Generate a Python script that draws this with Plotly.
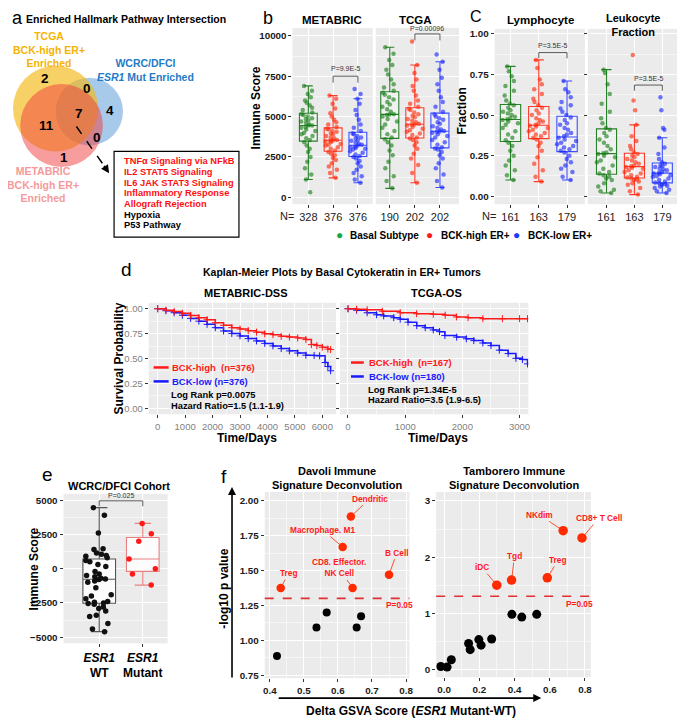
import plotly.graph_objects as go

# the page body has an 8px margin, so page pixel p sits at figure pixel p - OFF
OFF = 8
W, H = 685 - OFF, 722 - OFF
FONT = 'Liberation Sans, Arial, sans-serif'

# ---------------- data ----------------
# a: Venn of enriched hallmark pathways
venn_regions = ['TCGA only', 'TCGA & WCRC', 'WCRC only', 'all three',
                'TCGA & METABRIC', 'WCRC & METABRIC', 'METABRIC only']
venn_counts = [2, 0, 4, 7, 11, 0, 1]
pathways = ['TNFα Signaling via NFkB', 'IL2 STAT5 Signaling', 'IL6 JAK STAT3 Signaling',
            'Inflammatory Response', 'Allograft Rejection', 'Hypoxia', 'P53 Pathway']
pathway_highlight = [True, True, True, True, True, False, False]

# b / c: subtype groups
groups = ['Basal Subtype', 'BCK-high ER+', 'BCK-low ER+']
metabric_n = [328, 376, 376]
tcga_n = [190, 202, 202]
lymph_n = [161, 163, 179]
leuk_n = [161, 163, 179]

metabric_basal = [300, 1100, 1400, 1800, 2200, 2500, 2800, 3000, 3200, 3400, 3550, 3650, 3800, 3900,
                  4000, 4100, 4200, 4300, 4350, 4440, 4450, 4500, 4600, 4700, 4750, 4850, 4900, 5000,
                  5100, 5150, 5250, 5400, 5550, 5700, 5850, 6000, 6200, 6400, 6600, 6900]
metabric_high = [1200, 1500, 1700, 1900, 2100, 2300, 2450, 2600, 2700, 2800, 2900, 3000, 3100, 3200,
                 3250, 3300, 3400, 3450, 3500, 3520, 3550, 3650, 3700, 3800, 3900, 3950, 4050, 4100,
                 4200, 4250, 4350, 4500, 4650, 4800, 5000, 5200, 5500, 5800, 6100, 6300]
metabric_low = [900, 1100, 1300, 1500, 1700, 1900, 2100, 2250, 2400, 2500, 2550, 2650, 2750, 2850,
                2950, 3000, 3050, 3100, 3150, 3200, 3250, 3300, 3400, 3500, 3550, 3650, 3700, 3800,
                3900, 3950, 4100, 4300, 4500, 4800, 5100, 5400, 5800, 6100, 6400, 6700]
tcga_basal = [550, 1000, 1300, 1800, 2200, 2600, 2900, 3200, 3400, 3600, 3700, 3900, 4100, 4300,
              4500, 4700, 4850, 5000, 5100, 5120, 5150, 5300, 5450, 5600, 5750, 5900, 6050, 6200,
              6350, 6480, 6600, 6800, 7000, 7300, 7600, 7900, 8200, 8500, 8900, 9300]
tcga_high = [900, 1500, 2000, 2400, 2700, 3000, 3200, 3400, 3550, 3640, 3700, 3850, 3950, 4050,
             4150, 4250, 4350, 4450, 4500, 4500, 4550, 4650, 4750, 4850, 4950, 5050, 5150, 5250,
             5400, 5490, 5600, 5800, 6000, 6300, 6600, 6900, 7300, 7700, 8200, 9650]
tcga_low = [600, 1000, 1400, 1800, 2100, 2400, 2600, 2800, 2950, 3020, 3100, 3250, 3400, 3550,
            3700, 3800, 3900, 4000, 4050, 4070, 4100, 4200, 4300, 4400, 4550, 4650, 4800, 4900,
            5000, 5120, 5300, 5600, 5900, 6200, 6600, 7000, 7400, 7900, 8400, 8850]

lymph_basal = [0.10, 0.13, 0.16, 0.19, 0.22, 0.25, 0.28, 0.31, 0.33, 0.345, 0.36, 0.38, 0.40, 0.42,
               0.44, 0.45, 0.46, 0.47, 0.475, 0.48, 0.49, 0.50, 0.51, 0.52, 0.53, 0.545, 0.56, 0.57,
               0.59, 0.62, 0.65, 0.68, 0.71, 0.74, 0.77, 0.80]
lymph_high = [0.09, 0.12, 0.16, 0.20, 0.24, 0.28, 0.31, 0.33, 0.35, 0.36, 0.37, 0.38, 0.39, 0.40,
              0.41, 0.42, 0.43, 0.435, 0.44, 0.45, 0.46, 0.47, 0.48, 0.50, 0.51, 0.53, 0.545, 0.56,
              0.58, 0.60, 0.63, 0.66, 0.69, 0.72, 0.79, 0.84]
lymph_low = [0.10, 0.12, 0.15, 0.17, 0.19, 0.21, 0.23, 0.25, 0.27, 0.28, 0.29, 0.30, 0.31, 0.32,
             0.33, 0.34, 0.35, 0.36, 0.37, 0.38, 0.39, 0.41, 0.42, 0.44, 0.45, 0.47, 0.485, 0.50,
             0.52, 0.54, 0.56, 0.58, 0.61, 0.64, 0.66, 0.71]
leuk_basal = [0.02, 0.03, 0.04, 0.06, 0.08, 0.10, 0.11, 0.12, 0.13, 0.14, 0.15, 0.17, 0.19, 0.21,
              0.22, 0.24, 0.25, 0.26, 0.265, 0.27, 0.29, 0.31, 0.33, 0.35, 0.37, 0.39, 0.41, 0.42,
              0.45, 0.48, 0.52, 0.57, 0.63, 0.69, 0.76, 0.78]
leuk_high = [0.01, 0.03, 0.05, 0.07, 0.08, 0.09, 0.10, 0.105, 0.11, 0.115, 0.12, 0.13, 0.14, 0.15,
             0.16, 0.17, 0.175, 0.18, 0.185, 0.19, 0.20, 0.21, 0.22, 0.23, 0.24, 0.25, 0.26, 0.27,
             0.29, 0.31, 0.34, 0.37, 0.44, 0.53, 0.59, 0.87]
leuk_low = [0.02, 0.03, 0.04, 0.05, 0.06, 0.065, 0.07, 0.075, 0.08, 0.085, 0.09, 0.10, 0.11, 0.12,
            0.125, 0.13, 0.135, 0.14, 0.145, 0.15, 0.16, 0.165, 0.17, 0.18, 0.185, 0.19, 0.20, 0.21,
            0.23, 0.26, 0.30, 0.36, 0.41, 0.42, 0.53, 0.61]

p_metabric, p_tcga, p_lymph, p_leuk, p_esr1 = 'P=9.9E-5', 'P=0.00096', 'P=3.5E-5', 'P=3.5E-5', 'P=0.025'

# d: Kaplan-Meier
km_metabric_high_t = [0, 300, 600, 900, 1200, 1500, 1800, 2100, 2400, 2700, 3000, 3300, 3600, 3900,
                      4200, 4500, 4800, 5100, 5400, 5600, 5800, 6000, 6200, 6300]
km_metabric_high_s = [1.0, 0.985, 0.972, 0.955, 0.933, 0.91, 0.89, 0.86, 0.833, 0.81, 0.797, 0.78,
                      0.765, 0.748, 0.74, 0.723, 0.715, 0.707, 0.69, 0.64, 0.63, 0.613, 0.595, 0.59]
km_metabric_low_t = [0, 300, 600, 900, 1200, 1500, 1800, 2100, 2400, 2700, 3000, 3300, 3600, 3900,
                     4200, 4500, 4800, 5100, 5400, 5700, 5900, 6100, 6200, 6300]
km_metabric_low_s = [1.0, 0.98, 0.96, 0.935, 0.903, 0.875, 0.843, 0.81, 0.777, 0.752, 0.727, 0.70,
                     0.677, 0.652, 0.627, 0.60, 0.577, 0.555, 0.533, 0.53, 0.527, 0.46, 0.42, 0.377]
km_tcga_high_t = [0, 150, 335, 600, 913, 1200, 1491, 1700, 1896, 2100, 2358, 2700, 3000, 3139]
km_tcga_high_s = [1.0, 0.995, 0.99, 0.975, 0.96, 0.95, 0.944, 0.935, 0.918, 0.91, 0.90, 0.90, 0.90, 0.90]
km_tcga_low_t = [0, 150, 335, 500, 624, 800, 913, 1050, 1202, 1350, 1491, 1600, 1694, 1900, 2069,
                 2200, 2358, 2500, 2647, 2800, 2936, 3050, 3139]
km_tcga_low_s = [1.0, 0.985, 0.96, 0.94, 0.928, 0.91, 0.895, 0.865, 0.83, 0.81, 0.787, 0.77, 0.731,
                 0.715, 0.698, 0.68, 0.656, 0.63, 0.584, 0.55, 0.502, 0.49, 0.446]
km_metabric_n = [376, 376]
km_tcga_n = [167, 180]
km_metabric_stats = ['Log Rank p=0.0075', 'Hazard Ratio=1.5 (1.1-1.9)']
km_tcga_stats = ['Log Rank p=1.34E-5', 'Hazard Ratio=3.5 (1.9-6.5)']

# e: WCRC/DFCI immune score
esr1_groups = ['WT', 'Mutant']
esr1_wt = [4450, 3900, 2600, 1450, 1400, 1150, 1050, 950, 900, 800, 600, 500, 300, 150, -200, -400,
           -500, -600, -700, -750, -800, -900, -1000, -1400, -1900, -2000, -2200, -2400, -2450,
           -2500, -2550, -2600, -2800, -2900, -3100, -3400, -3500, -4000, -4400, -4600]
esr1_mut = [3300, 2550, 2000, 700, 0, -400, -1200]

# f: deconvolution
davoli_sig_names = ['Dendritic', 'Macrophage. M1', 'B Cell', 'Treg', 'CD8. Effector.<br>NK Cell']
davoli_sig_x = [0.638, 0.614, 0.750, 0.432, 0.643]
davoli_sig_y = [1.888, 1.669, 1.471, 1.376, 1.376]
davoli_ns_x = [0.421, 0.537, 0.567, 0.655, 0.668]
davoli_ns_y = [0.888, 1.093, 1.200, 1.093, 1.173]
tamb_sig_names = ['NKdim', 'CD8+ T Cell', 'Tgd', 'Treg', 'iDC']
tamb_sig_x = [0.676, 0.783, 0.383, 0.586, 0.299]
tamb_sig_y = [2.47, 2.34, 1.59, 1.63, 1.50]
tamb_ns_x = [0.385, 0.441, 0.526, -0.019, 0.017, 0.041, 0.139, 0.148, 0.197, 0.210, 0.270]
tamb_ns_y = [0.98, 0.93, 0.98, 0.05, 0.04, 0.17, 0.46, 0.35, 0.53, 0.43, 0.54]
p_cut = 1.301  # -log10(0.05)

# ---------------- styles ----------------
pt_colors = ['#0E7A0E', '#FF2200', '#1020FF']
box_colors = ['#2A7F2A', '#FF3B2B', '#3B4EFF']
leg_colors = ['#14A84A', '#FF1A1A', '#1A3BFF']
RED, BLUE = '#FF1A1A', '#1A1AFF'
BG = '#EBEBEB'

fig = go.Figure()
shapes, ann = [], []


def X(px):
    return (px - OFF) / W


def Y(py):
    return 1 - (py - OFF) / H


def dx(a, b):
    return [max(X(a), 0), min(X(b), 1)]


def dy(top, bottom):
    return [Y(bottom), Y(top)]


def text(x, y, s, size, color='black', bold=True, xanchor='center', angle=0, yanchor='middle'):
    ann.append(dict(x=X(x), y=Y(y), xref='paper', yref='paper', text=s, showarrow=False,
                    xanchor=xanchor, yanchor=yanchor, textangle=angle,
                    font=dict(family=FONT, size=size, color=color,
                              weight='bold' if bold else 'normal')))


def axis(**kw):
    base = dict(showgrid=True, gridcolor='white', gridwidth=1, zeroline=False, showline=False,
                ticks='outside', ticklen=3, tickcolor='#333', tickwidth=1,
                tickfont=dict(family=FONT, size=9.8, color='#1a1a1a', weight='bold'))
    base.update(kw)
    return base


def add_boxes(series, xa, ya, size, width):
    for name, vals, pc, bc in zip(groups, series, pt_colors, box_colors):
        fig.add_trace(go.Box(x=[name] * len(vals), y=vals, xaxis=xa, yaxis=ya, boxpoints='all',
                             jitter=1, pointpos=0, width=width,
                             marker=dict(color=pc, size=size, opacity=0.6),
                             line=dict(color=bc, width=1.1),
                             fillcolor='rgba(255,255,255,0.25)', showlegend=False))


def bracket(xa, ya, x0, x1, y, drop, label, label_y):
    for a, b, c, d in [(x0, y - drop, x0, y), (x0, y, x1, y), (x1, y, x1, y - drop)]:
        shapes.append(dict(type='line', xref=xa, yref=ya, x0=a, y0=b, x1=c, y1=d,
                           line=dict(color='#333', width=0.8)))
    ann.append(dict(x=(x0 + x1) / 2, y=label_y, xref=xa, yref=ya, text=label, showarrow=False,
                    xanchor='center', yanchor='middle',
                    font=dict(family=FONT, size=7, color='#333')))


# ---------------- a: Venn ----------------
circles = [(88, 111, 34, 'rgba(80,150,215,0.5)'),
           (54, 108, 43, 'rgba(245,185,20,0.65)'),
           (60, 125, 41.7, 'rgba(240,60,60,0.5)')]
for cx, cy, r, col in circles:
    shapes.append(dict(type='circle', xref='paper', yref='paper', x0=X(cx - r), x1=X(cx + r),
                       y0=Y(cy + r), y1=Y(cy - r), fillcolor=col, line=dict(width=0)))
venn_pos = [(43, 78), (86, 88), (109, 110), (78, 113), (45, 125), (96, 137), (62, 157)]
for (vx, vy), c in zip(venn_pos, venn_counts):
    text(vx, vy, str(c), 13.5)
text(8, 5, 'a', 18, bold=False, xanchor='left', yanchor='top')
text(125, 18, 'Enriched Hallmark Pathway Intersection', 10.5)
text(47, 49, 'TCGA<br>BCK-high ER+<br>Enriched', 10.5, color='#F5B300')
text(145, 69, 'WCRC/DFCI<br><i>ESR1</i> Mut Enriched', 10.5, color='#1F7BC8')
text(41, 184, 'METABRIC<br>BCK-high ER+<br>Enriched', 10.5, color='#F59A9A')
shapes.append(dict(type='line', xref='paper', yref='paper', x0=X(75), y0=Y(126),
                   x1=X(104), y1=Y(167), line=dict(color='black', width=1.5, dash='dash')))
ann.append(dict(x=X(108), y=Y(173), xref='paper', yref='paper', text='', showarrow=True,
                ax=-6, ay=-9, arrowhead=2, arrowsize=1.1, arrowwidth=1.5, arrowcolor='black'))
shapes.append(dict(type='rect', xref='paper', yref='paper', x0=X(113), x1=X(239),
                   y0=Y(237), y1=Y(151), line=dict(color='black', width=1.2),
                   fillcolor='white'))
for i, (pw, hl) in enumerate(zip(pathways, pathway_highlight)):
    text(121, 161 + i * 10.7, pw, 9.3, color='#FF1010' if hl else 'black', xanchor='left')

# ---------------- b ----------------
add_boxes([metabric_basal, metabric_high, metabric_low], 'x', 'y', 4.5, 0.72)
add_boxes([tcga_basal, tcga_high, tcga_low], 'x2', 'y2', 4.5, 0.72)
bracket('x', 'y', 1, 2, 7500, 400, p_metabric, 7950)
bracket('x2', 'y2', 1, 2, 10120, 400, p_tcga, 10450)
text(268, 5, 'b', 18, bold=False, yanchor='top')
text(333, 19, 'METABRIC', 11.5)
text(417, 19, 'TCGA', 11.5)
text(256, 107, 'Immune Score', 12, angle=-90)
text(287, 216, 'N=', 11, color='#222', bold=False)

# ---------------- c ----------------
add_boxes([lymph_basal, lymph_high, lymph_low], 'x3', 'y3', 4.5, 0.72)
add_boxes([leuk_basal, leuk_high, leuk_low], 'x4', 'y4', 4.5, 0.72)
bracket('x3', 'y3', 1, 2, 0.885, 0.035, p_lymph, 0.93)
bracket('x4', 'y4', 1, 2, 0.685, 0.035, p_leuk, 0.725)
text(478, 5, 'C', 16, bold=False, yanchor='top')
text(543, 19, 'Lymphocyte', 11.5)
text(637, 9, 'Leukocyte<br>Fraction', 11, yanchor='top')
text(464, 110, 'Fraction', 12, angle=-90)
text(491, 216, 'N=', 11, color='#222', bold=False)

# legend row
leg_x = [(340, 349), (431, 441), (519, 529)]
for (dxp, tx), g, c in zip(leg_x, groups, leg_colors):
    text(dxp, 235, '●', 12, color=c, bold=False)
    text(tx, 235, g, 10, xanchor='left')

# ---------------- d ----------------
for t, s, col, xa, ya in [(km_metabric_low_t, km_metabric_low_s, BLUE, 'x5', 'y5'),
                          (km_metabric_high_t, km_metabric_high_s, RED, 'x5', 'y5'),
                          (km_tcga_low_t, km_tcga_low_s, BLUE, 'x6', 'y6'),
                          (km_tcga_high_t, km_tcga_high_s, RED, 'x6', 'y6')]:
    fig.add_trace(go.Scatter(x=t, y=s, xaxis=xa, yaxis=ya, mode='lines+markers',
                             line=dict(color=col, width=1.5, shape='hv'),
                             marker=dict(symbol='cross-thin', size=5, color=col,
                                         line=dict(color=col, width=1)),
                             showlegend=False))


def km_legend(xa, lx0, lx1, tx, ys, ns, stats):
    ya = xa.replace('x', 'y')
    for (label, col), yy, n in zip([('BCK-high ', RED), ('BCK-low', BLUE)], ys[:2], ns):
        shapes.append(dict(type='line', xref=xa + ' domain', yref=ya + ' domain',
                           x0=lx0, x1=lx1, y0=yy, y1=yy, line=dict(color=col, width=2.5)))
        ann.append(dict(x=tx, y=yy, xref=xa + ' domain', yref=ya + ' domain',
                        text=f'{label} (n={n})', showarrow=False, xanchor='left', yanchor='middle',
                        font=dict(family=FONT, size=9.5, color=col, weight='bold')))
    for st, yy in zip(stats, ys[2:]):
        ann.append(dict(x=tx - 0.005, y=yy, xref=xa + ' domain', yref=ya + ' domain',
                        text=st, showarrow=False, xanchor='left', yanchor='middle',
                        font=dict(family=FONT, size=9.3, color='black', weight='bold')))


km_legend('x5', 0.026, 0.106, 0.112, [0.42, 0.295, 0.17, 0.071], km_metabric_n, km_metabric_stats)
km_legend('x6', 0.058, 0.126, 0.142, [0.464, 0.339, 0.214, 0.125], km_tcga_n, km_tcga_stats)
text(126, 270, 'd', 19, bold=False)
text(343, 272, 'Kaplan-Meier Plots by Basal Cytokeratin in ER+ Tumors', 10.5)
text(246, 293, 'METABRIC-DSS', 11)
text(438, 293, 'TCGA-OS', 11)
text(117, 359, 'Survival Probability', 12, angle=-90)
text(247, 439, 'Time/Days', 12)
text(440, 439, 'Time/Days', 12)

# ---------------- e ----------------
for name, vals, pc, bc in [(esr1_groups[0], esr1_wt, '#111111', '#555555'),
                           (esr1_groups[1], esr1_mut, '#FF1A1A', '#E88080')]:
    fig.add_trace(go.Box(x=[name] * len(vals), y=vals, xaxis='x7', yaxis='y7', boxpoints='all',
                         jitter=1, pointpos=0, width=0.75, quartilemethod='inclusive',
                         marker=dict(color=pc, size=5.5), line=dict(color=bc, width=1.1),
                         fillcolor='rgba(255,255,255,0.85)', showlegend=False))
bracket('x7', 'y7', 0, 1, 4950, 400, p_esr1, 5330)
text(46, 475, 'e', 19, bold=False)
text(118, 487, 'WCRC/DFCI Cohort', 11)
text(32, 570, 'Immune Score', 12, angle=-90)

# ---------------- f ----------------
fig.add_trace(go.Scatter(x=davoli_ns_x, y=davoli_ns_y, xaxis='x8', yaxis='y8', mode='markers',
                         marker=dict(color='black', size=8), showlegend=False))
fig.add_trace(go.Scatter(x=davoli_sig_x, y=davoli_sig_y, xaxis='x8', yaxis='y8', mode='markers',
                         marker=dict(color='#FF2A00', size=8.5), showlegend=False))
fig.add_trace(go.Scatter(x=tamb_ns_x, y=tamb_ns_y, xaxis='x9', yaxis='y9', mode='markers',
                         marker=dict(color='black', size=9), showlegend=False))
fig.add_trace(go.Scatter(x=tamb_sig_x, y=tamb_sig_y, xaxis='x9', yaxis='y9', mode='markers',
                         marker=dict(color='#FF2A00', size=9.5), showlegend=False))

davoli_offsets = [(19, -18), (-20, -17), (8, -22), (8, -15), (-14, -20)]
tamb_offsets = [(-24, -16), (17, -20), (3, -24), (11, -18), (-15, -18)]
for names, xs, ys, offs, xa, ya in [(davoli_sig_names, davoli_sig_x, davoli_sig_y, davoli_offsets, 'x8', 'y8'),
                                    (tamb_sig_names, tamb_sig_x, tamb_sig_y, tamb_offsets, 'x9', 'y9')]:
    for nm, xv, yv, (ox, oy) in zip(names, xs, ys, offs):
        ann.append(dict(x=xv, y=yv, xref=xa, yref=ya, text=nm, showarrow=True, ax=ox, ay=oy,
                        arrowhead=0, arrowwidth=0.8, arrowcolor='#FF2A00', standoff=4,
                        font=dict(family=FONT, size=8.3, color='#FF1A1A', weight='bold')))
    shapes.append(dict(type='line', xref=xa + ' domain', yref=ya, x0=0, x1=1, y0=p_cut, y1=p_cut,
                       line=dict(color='#E03030', width=1.6, dash='dash')))
ann.append(dict(x=0.782, y=1.252, xref='x8', yref='y8', text='P=0.05', showarrow=False,
                font=dict(family=FONT, size=8.3, color='#FF1A1A', weight='bold')))
ann.append(dict(x=0.766, y=1.16, xref='x9', yref='y9', text='P=0.05', showarrow=False,
                font=dict(family=FONT, size=8.3, color='#FF1A1A', weight='bold')))

text(224, 477, 'f', 19, bold=False)
text(338, 479, 'Davoli Immune<br>Signature Deconvolution', 11)
text(517, 479, 'Tamborero Immune<br>Signature Deconvolution', 11)
text(223, 590, '-log10 p value', 12, angle=-90)
text(413, 713, 'Delta GSVA Score (<i>ESR1</i> Mutant-WT)', 12)
ann.append(dict(x=X(232), y=Y(488), xref='paper', yref='paper', text='', showarrow=True,
                ax=0, ay=192, arrowhead=2, arrowsize=1, arrowwidth=1.6, arrowcolor='black'))
ann.append(dict(x=X(544), y=Y(700), xref='paper', yref='paper', text='', showarrow=True,
                ax=-264, ay=0, arrowhead=2, arrowsize=1, arrowwidth=1.6, arrowcolor='black'))

# ---------------- axes ----------------
grey_ticks = dict(family=FONT, size=9.5, color='#7F7F7F')
n_font = dict(family=FONT, size=11, color='#222')
minor_grid = dict(showgrid=True, gridcolor='#F6F6F6', gridwidth=0.5)
cat = dict(categoryorder='array', categoryarray=groups, tickvals=groups)

layout_axes = dict(
    xaxis=axis(domain=dx(293, 374), anchor='y', range=[-0.64, 2.6], ticktext=[str(n) for n in metabric_n],
               tickfont=n_font, **cat),
    yaxis=axis(domain=dy(27, 204), anchor='x', range=[-432, 10494], dtick=2500, tickformat='d',
               minor=dict(dtick=1250, **minor_grid)),
    xaxis2=axis(domain=dx(377, 461), anchor='y2', range=[-0.56, 2.76], ticktext=[str(n) for n in tcga_n],
                tickfont=n_font, **cat),
    yaxis2=axis(domain=dy(27, 204), anchor='x2', range=[-432, 10494], dtick=2500, showticklabels=False,
                ticks='', minor=dict(dtick=1250, **minor_grid)),
    xaxis3=axis(domain=dx(497, 588), anchor='y3', range=[-0.56, 2.63], ticktext=[str(n) for n in lymph_n],
                tickfont=n_font, **cat),
    yaxis3=axis(domain=dy(28, 204), anchor='x3', range=[-0.049, 1.031], dtick=0.25, tickformat='.2f',
                minor=dict(dtick=0.125, **minor_grid)),
    xaxis4=axis(domain=dx(591, 685), anchor='y4', range=[-0.67, 2.67], ticktext=[str(n) for n in leuk_n],
                tickfont=n_font, **cat),
    yaxis4=axis(domain=dy(28, 204), anchor='x4', range=[-0.049, 1.031], dtick=0.25, showticklabels=False,
                minor=dict(dtick=0.125, **minor_grid)),
    xaxis5=axis(domain=dx(148, 337), anchor='y5', range=[-325, 6500], dtick=1000, tickfont=grey_ticks,
                minor=dict(dtick=500, **minor_grid)),
    yaxis5=axis(domain=dy(303, 415), anchor='x5', range=[-0.06, 1.06], dtick=0.25, tickformat='.2f',
                tickfont=grey_ticks, minor=dict(dtick=0.125, **minor_grid)),
    xaxis6=axis(domain=dx(341, 531), anchor='y6', range=[-139, 3154], dtick=1000, tickfont=grey_ticks,
                minor=dict(dtick=500, **minor_grid)),
    yaxis6=axis(domain=dy(303, 415), anchor='x6', range=[-0.06, 1.06], dtick=0.25, showticklabels=False,
                minor=dict(dtick=0.125, **minor_grid)),
    xaxis7=axis(domain=dx(62, 167), anchor='y7', range=[-0.82, 1.57], categoryorder='array',
                categoryarray=esr1_groups, tickvals=esr1_groups,
                ticktext=['<i>ESR1</i><br>' + g for g in esr1_groups],
                tickfont=dict(family=FONT, size=12, color='black', weight='bold')),
    yaxis7=axis(domain=dy(495, 645), anchor='x7', range=[-5450, 5450], dtick=2500, tickformat='d',
                minor=dict(dtick=1250, **minor_grid)),
    xaxis8=axis(domain=dx(265, 411), anchor='y8', range=[0.385, 0.81], dtick=0.1, tickformat='.1f',
                minor=dict(dtick=0.05, **minor_grid)),
    yaxis8=axis(domain=dy(493, 680), anchor='x8', range=[0.729, 2.064], dtick=0.25, tickformat='.2f',
                minor=dict(dtick=0.125, **minor_grid)),
    xaxis9=axis(domain=dx(438, 594), anchor='y9', range=[-0.045, 0.833], dtick=0.2, tickformat='.1f',
                minor=dict(dtick=0.1, **minor_grid)),
    yaxis9=axis(domain=dy(493, 679), anchor='x9', range=[-0.14, 3.16], dtick=1,
                minor=dict(dtick=0.5, **minor_grid)),
)

fig.update_layout(
    width=W, height=H, margin=dict(l=0, r=0, t=0, b=0),
    paper_bgcolor='white', plot_bgcolor=BG,
    font=dict(family=FONT, color='black'),
    shapes=shapes, annotations=ann, showlegend=False,
    boxmode='overlay',
    **layout_axes,
)

fig.write_html('out.html')
